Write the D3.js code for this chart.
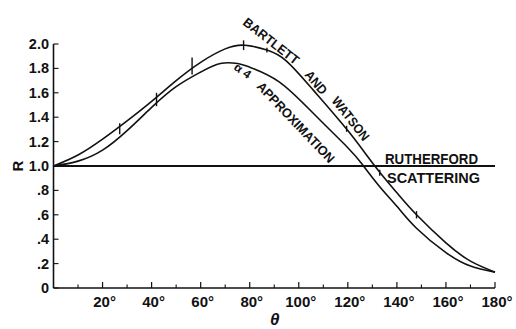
<!DOCTYPE html>
<html>
<head>
<meta charset="utf-8">
<script src="https://cdn.jsdelivr.net/npm/d3@7"></script>
<style>
  html, body { margin: 0; padding: 0; background: #fff; }
  svg { display: block; }
  text { font-family: "Liberation Sans", Arial, sans-serif; font-weight: bold; fill: #111; }
</style>
</head>
<body>
<svg id="chart" width="516" height="329"></svg>
<script>
// ---- data ----
const thetaBW = [0, 10, 20, 30, 40, 50, 60, 70, 78, 87, 95, 106, 120, 131, 140, 148, 160, 170, 180];
const rBW     = [1.00, 1.09, 1.22, 1.37, 1.53, 1.70, 1.85, 1.96, 1.99, 1.95, 1.86, 1.62, 1.29, 1.00, 0.78, 0.60, 0.37, 0.22, 0.13];

const thetaA4 = [0, 10, 20, 30, 40, 50, 60, 68, 75, 80, 92, 106, 120, 126, 133, 140, 148, 160, 170, 180];
const rA4     = [1.00, 1.04, 1.13, 1.29, 1.48, 1.65, 1.77, 1.84, 1.84, 1.81, 1.69, 1.43, 1.15, 1.01, 0.83, 0.67, 0.49, 0.29, 0.18, 0.13];

// experimental points (error bars) on the Bartlett & Watson curve
const ebTheta = [27, 42, 56.5, 77.5, 87, 119.5, 133, 148];
const ebLow   = [1.26, 1.49, 1.75, 1.95, 1.93, 1.28, 0.92, 0.57];
const ebHigh  = [1.35, 1.60, 1.89, 2.03, 1.97, 1.33, 0.97, 0.63];

const rutherfordR = 1.0;

const yTickValues = [0, 0.2, 0.4, 0.6, 0.8, 1.0, 1.2, 1.4, 1.6, 1.8, 2.0];
const yTickLabels = ["0", ".2", ".4", ".6", ".8", "1.0", "1.2", "1.4", "1.6", "1.8", "2.0"];
const xMajorTicks = [20, 40, 60, 80, 100, 120, 140, 160, 180];
const xMinorTicks = [10, 30, 50, 70, 90, 110, 130, 150, 170];

// ---- drawing ----
const svg = d3.select("#chart");
svg.append("rect").attr("width", 516).attr("height", 329).attr("fill", "#fff");

const x = d3.scaleLinear().domain([0, 180]).range([53.5, 495]);
const y = d3.scaleLinear().domain([0, 2]).range([288, 44]);
const ink = "#111";

// axes lines
svg.append("line").attr("x1", x(0)).attr("x2", x(180)).attr("y1", y(0)).attr("y2", y(0))
  .attr("stroke", ink).attr("stroke-width", 1.6);
svg.append("line").attr("x1", x(0)).attr("x2", x(0)).attr("y1", y(0)).attr("y2", y(2))
  .attr("stroke", ink).attr("stroke-width", 1.6);

// x ticks (pointing up, inside)
svg.selectAll(".xmaj").data(xMajorTicks).enter().append("line")
  .attr("x1", d => x(d)).attr("x2", d => x(d)).attr("y1", y(0)).attr("y2", y(0) - 6)
  .attr("stroke", ink).attr("stroke-width", 1.2);
svg.selectAll(".xmin").data(xMinorTicks).enter().append("line")
  .attr("x1", d => x(d)).attr("x2", d => x(d)).attr("y1", y(0)).attr("y2", y(0) - 3.5)
  .attr("stroke", ink).attr("stroke-width", 1.1);
svg.selectAll(".xlab").data(xMajorTicks).enter().append("text")
  .attr("x", d => x(d) + 2).attr("y", 307)
  .attr("text-anchor", "middle").attr("font-size", 15)
  .text(d => d + "°");

// y ticks (pointing right, inside)
svg.selectAll(".ytk").data(yTickValues).enter().append("line")
  .attr("x1", x(0)).attr("x2", x(0) + 5).attr("y1", d => y(d)).attr("y2", d => y(d))
  .attr("stroke", ink).attr("stroke-width", 1.1);
svg.selectAll(".ylab").data(yTickValues).enter().append("text")
  .attr("x", 49).attr("y", d => y(d) + 5)
  .attr("text-anchor", "end").attr("font-size", 14.5)
  .text((d, i) => yTickLabels[i]);

// axis titles
svg.append("text").attr("transform", `translate(23,${y(1)}) rotate(-90)`)
  .attr("text-anchor", "middle").attr("font-size", 15).text("R");
svg.append("text").attr("x", (x(0) + x(180)) / 2 + 0.5).attr("y", 325)
  .attr("text-anchor", "middle").attr("font-size", 17)
  .attr("font-style", "italic").attr("font-family", "DejaVu Serif, serif").attr("font-weight", "normal")
  .text("θ");

// Rutherford line
svg.append("line").attr("x1", x(0)).attr("x2", x(180)).attr("y1", y(rutherfordR)).attr("y2", y(rutherfordR))
  .attr("stroke", ink).attr("stroke-width", 1.8);

// curves
const line = d3.line().x(d => x(d[0])).y(d => y(d[1])).curve(d3.curveNatural);
svg.append("path").datum(d3.zip(thetaBW, rBW)).attr("d", line)
  .attr("fill", "none").attr("stroke", ink).attr("stroke-width", 1.6);
svg.append("path").datum(d3.zip(thetaA4, rA4)).attr("d", line)
  .attr("fill", "none").attr("stroke", ink).attr("stroke-width", 1.6);

// error bars
svg.selectAll(".eb").data(d3.zip(ebTheta, ebLow, ebHigh)).enter().append("line")
  .attr("x1", d => x(d[0])).attr("x2", d => x(d[0])).attr("y1", d => y(d[1])).attr("y2", d => y(d[2]))
  .attr("stroke", ink).attr("stroke-width", 1.4);

// curve labels (rotated lettering)
function label(txt, px, py, angle, size, len) {
  const t = svg.append("text").attr("transform", `translate(${px},${py}) rotate(${angle})`)
    .attr("font-size", size).text(txt);
  if (len) t.attr("textLength", len).attr("lengthAdjust", "spacingAndGlyphs");
  return t;
}
label("BARTLETT", 242, 24, 38, 13, 67);
label("AND", 304, 75, 50, 13, 27);
label("WATSON", 331, 101, 52, 13, 52);
label("α 4", 233, 69, 35, 12, 18);
label("APPROXIMATION", 256, 87, 46.5, 13, 106);
label("RUTHERFORD", 385, 164, 0, 15, 93);
label("SCATTERING", 387, 183, 0, 15, 93);
</script>
</body>
</html>
